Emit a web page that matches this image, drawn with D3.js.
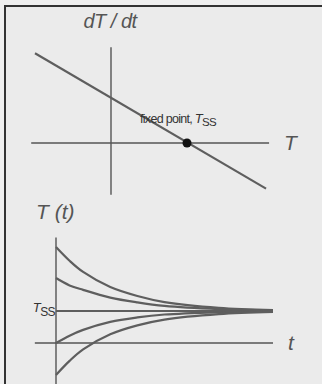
<!DOCTYPE html>
<html>
<head>
<meta charset="utf-8">
<script src="https://cdnjs.cloudflare.com/ajax/libs/d3/7.8.5/d3.min.js"></script>
<style>
  body { margin: 0; background: #efefef; }
  text { font-family: "Liberation Sans", Arial, sans-serif; }
</style>
</head>
<body>
<script>
// top panel: phase line dT/dt vs T
const phaseT = [-1.0, 2.04];
const phaseRate = [1.18, -0.6];
const fixedPoint = [1, 0]; // T_ss, dT/dt = 0

// bottom panel: T(t) relaxing toward T_ss
const times = [0, 0.25, 0.5, 1, 1.5, 2, 3, 4];
const curveA = [3.0, 2.57, 2.22, 1.75, 1.47, 1.28, 1.1, 1.03];
const curveB = [2.03, 1.8, 1.66, 1.42, 1.27, 1.16, 1.06, 1.02];
const curveC = [1, 1, 1, 1, 1, 1, 1, 1];
const curveD = [0, 0.23, 0.41, 0.66, 0.8, 0.89, 0.96, 0.99];
const curveE = [-1, -0.56, -0.2, 0.27, 0.55, 0.73, 0.9, 0.97];
const Tss = 1;

const w = 322, h = 384;
const axisCol = '#555', lineCol = '#5e5e5e', labelCol = '#555';

const svg = d3.select('body').
append('svg').
attr('width', w).
attr('height', h);

// frame
svg.append('rect').
attr('x', 5).attr('y', 6).
attr('width', 330).attr('height', 400).
attr('fill', '#ebebeb').
attr('stroke', '#333').
attr('stroke-width', 2);

// ---------- top panel ----------
const x1 = d3.scaleLinear().domain([0, 1]).range([111, 187]);
const y1 = d3.scaleLinear().domain([0, 1]).range([143, 67]);

// axes (drawn as plain lines through the scales)
svg.append('line').
attr('x1', x1(-1.05)).attr('x2', x1(2.08)).
attr('y1', y1(0)).attr('y2', y1(0)).
attr('stroke', axisCol).attr('stroke-width', 1.4);
svg.append('line').
attr('x1', x1(0)).attr('x2', x1(0)).
attr('y1', y1(1.26)).attr('y2', y1(-0.68)).
attr('stroke', axisCol).attr('stroke-width', 1.4);

svg.append('path').
datum(d3.zip(phaseT, phaseRate)).
attr('d', d3.line().x(d => x1(d[0])).y(d => y1(d[1]))).
attr('fill', 'none').
attr('stroke', lineCol).
attr('stroke-width', 2.2);

svg.append('circle').
attr('cx', x1(fixedPoint[0])).attr('cy', y1(fixedPoint[1])).
attr('r', 4.5).
attr('fill', '#111');

svg.append('text').
attr('x', 110).attr('y', 28).
attr('text-anchor', 'middle').
style('font-size', '20px').style('font-style', 'italic').
style('letter-spacing', '-0.5px').
attr('fill', labelCol).
text('dT / dt');

svg.append('text').
attr('x', 284).attr('y', 150).
style('font-size', '21px').style('font-style', 'italic').
attr('fill', labelCol).
text('T');

const fp = svg.append('text').
attr('x', 140).attr('y', 123).
style('font-size', '12.5px').
style('letter-spacing', '-0.7px').
attr('fill', '#333');
fp.append('tspan').text('fixed point, ');
fp.append('tspan').style('font-style', 'italic').style('font-size', '13px').text('T');
fp.append('tspan').attr('dy', 3).style('font-size', '11.5px').text('SS');

// ---------- bottom panel ----------
const x2 = d3.scaleLinear().domain([0, 4]).range([56, 273]);
const y2 = d3.scaleLinear().domain([0, 1]).range([343, 311]);

svg.append('line').
attr('x1', x2(-0.39)).attr('x2', x2(4)).
attr('y1', y2(0)).attr('y2', y2(0)).
attr('stroke', axisCol).attr('stroke-width', 1.4);
svg.append('line').
attr('x1', x2(0)).attr('x2', x2(0)).
attr('y1', y2(3.3)).attr('y2', y2(-1.4)).
attr('stroke', axisCol).attr('stroke-width', 1.4);

const curveLine = d3.line().
x((d, i) => x2(times[i])).
y(d => y2(d)).
curve(d3.curveCatmullRom.alpha(0.5));

svg.selectAll('path.traj').
data([curveA, curveB, curveC, curveD, curveE]).
enter().
append('path').
attr('class', 'traj').
attr('d', curveLine).
attr('fill', 'none').
attr('stroke', lineCol).
attr('stroke-width', 2.2);

svg.append('text').
attr('x', 36).attr('y', 219).
style('font-size', '21px').style('font-style', 'italic').
attr('fill', labelCol).
text('T (t)');

svg.append('text').
attr('x', 288).attr('y', 350).
style('font-size', '21px').style('font-style', 'italic').
attr('fill', labelCol).
text('t');

const ts = svg.append('text').
attr('x', 55).attr('y', y2(Tss) + 1).
attr('text-anchor', 'end').
style('letter-spacing', '-0.6px').
attr('fill', '#333');
ts.append('tspan').style('font-size', '13px').style('font-style', 'italic').text('T');
ts.append('tspan').attr('dy', 4).style('font-size', '12px').text('SS');
</script>
</body>
</html>
